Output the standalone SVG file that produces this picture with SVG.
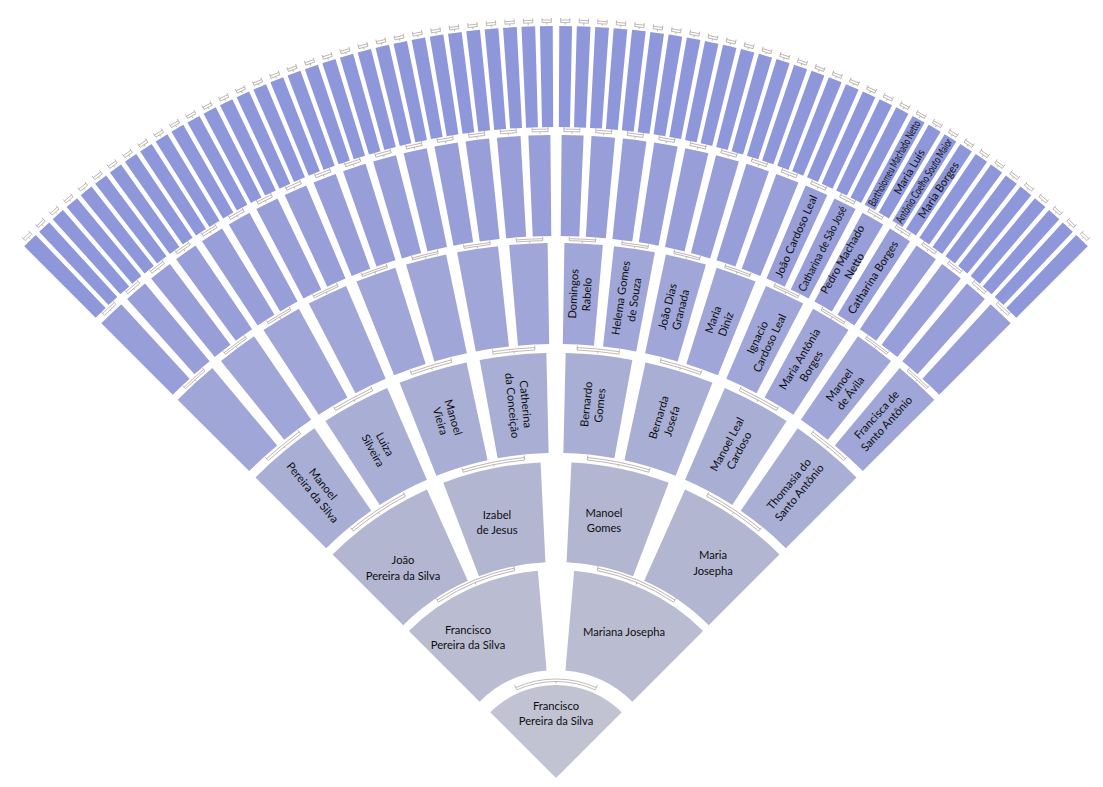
<svg xmlns="http://www.w3.org/2000/svg" xmlns:xlink="http://www.w3.org/1999/xlink" width="1103" height="787" viewBox="0 0 1103 787">
<style>
.c0{fill:#c1c3d3}.c1{fill:#babdd1}.c2{fill:#b3b6d1}.c3{fill:#a9aed5}.c4{fill:#a0a6d7}.c5{fill:#979ed8}.c6{fill:#8e97d9}
.band{fill:#ffffff;stroke:#a89d9d;stroke-width:0.7}
.tick{fill:none;stroke:#a89d9d;stroke-width:0.7}
.t{font-family:Lato,"Open Sans","Liberation Sans",sans-serif;font-size:11.2px;fill:#0e0e0e;text-anchor:middle}
</style>
<defs>
<path id="R0" d="M556,778 L490.24,712.24 A93,93 0 0 1 621.76,712.24 Z"/>
<path id="R1" d="M479.63,701.63 L408.92,630.92 A208,208 0 0 1 537.87,570.79 L546.59,670.41 A108,108 0 0 0 479.63,701.63 Z"/>
<path id="R2a" d="M403.26,625.26 L332.55,554.55 A316,316 0 0 1 426.97,489.55 L467.80,580.83 A216,216 0 0 0 403.26,625.26 Z"/>
<path id="R2b" d="M478.94,576.21 L443.27,482.79 A316,316 0 0 1 540.56,462.38 L545.45,562.26 A216,216 0 0 0 478.94,576.21 Z"/>
<path id="G3" d="M529.23,454.10 L520.99,354.44 A425,425 0 0 1 591.01,354.44 L582.77,454.10 A325,325 0 0 0 529.23,454.10 Z"/>
<path id="E3" d="M524.14,454.57 L514.34,355.05 A425,425 0 0 1 591.01,354.44 L582.77,454.10 A325,325 0 0 0 524.14,454.57 Z"/>
<path id="M3" d="M529.23,454.10 L520.99,354.44 A425,425 0 0 1 588.05,354.21 L580.51,453.93 A325,325 0 0 0 529.23,454.10 Z"/>
<path id="G4" d="M539.25,344.33 L535.35,243.40 A535,535 0 0 1 576.65,243.40 L572.75,344.33 A434,434 0 0 0 539.25,344.33 Z"/>
<path id="E4" d="M534.70,344.52 L529.75,243.64 A535,535 0 0 1 576.65,243.40 L572.75,344.33 A434,434 0 0 0 534.70,344.52 Z"/>
<path id="M4" d="M539.25,344.33 L535.35,243.40 A535,535 0 0 1 573.85,243.30 L570.48,344.24 A434,434 0 0 0 539.25,344.33 Z"/>
<path id="G5" d="M546.01,236.09 L544.15,135.11 A643,643 0 0 1 567.85,135.11 L565.99,236.09 A542,542 0 0 0 546.01,236.09 Z"/>
<path id="E5" d="M542.70,236.16 L540.22,135.19 A643,643 0 0 1 567.85,135.11 L565.99,236.09 A542,542 0 0 0 542.70,236.16 Z"/>
<path id="M5" d="M546.01,236.09 L544.15,135.11 A643,643 0 0 1 566.17,135.08 L564.57,236.07 A542,542 0 0 0 546.01,236.09 Z"/>
<path id="G6" d="M550.06,127.03 L549.13,26.03 A752,752 0 0 1 562.87,26.03 L561.94,127.03 A651,651 0 0 0 550.06,127.03 Z"/>
<path id="E6" d="M548.01,127.05 L546.77,26.06 A752,752 0 0 1 562.87,26.03 L561.94,127.03 A651,651 0 0 0 548.01,127.05 Z"/>
<path id="M6" d="M550.06,127.03 L549.13,26.03 A752,752 0 0 1 561.95,26.02 L561.15,127.02 A651,651 0 0 0 550.06,127.03 Z"/>
<g id="B0"><path class="band" d="M516.75,689.84 A96.5,96.5 0 0 1 595.25,689.84 L596.27,687.56 A99,99 0 0 0 515.73,687.56 Z"/><path class="tick" d="M515.73,687.56 L514.51,684.82 M596.27,687.56 L597.49,684.82 M556,681.5 L556,683.5"/></g>
<g id="B1"><path class="band" d="M514.74,570.56 A211.5,211.5 0 0 1 597.26,570.56 L597.75,568.11 A214,214 0 0 0 514.25,568.11 Z"/><path class="tick" d="M514.25,568.11 L513.86,566.15 M597.75,568.11 L598.14,566.15 M556,566.5 L556,568.5"/></g>
<g id="B2"><path class="band" d="M524.68,460.04 A319.5,319.5 0 0 1 587.32,460.04 L587.56,457.55 A322,322 0 0 0 524.44,457.55 Z"/><path class="tick" d="M524.44,457.55 L524.24,455.56 M587.56,457.55 L587.76,455.56 M556,458.5 L556,460.5"/></g>
<g id="B3"><path class="band" d="M534.97,350.01 A428.5,428.5 0 0 1 577.03,350.01 L577.15,347.52 A431,431 0 0 0 534.85,347.52 Z"/><path class="tick" d="M534.85,347.52 L534.75,345.52 M577.15,347.52 L577.25,345.52 M556,349.5 L556,351.5"/></g>
<g id="B4"><path class="band" d="M542.81,240.66 A537.5,537.5 0 0 1 569.19,240.66 L569.24,238.66 A539.5,539.5 0 0 0 542.76,238.66 Z"/><path class="tick" d="M542.76,238.66 L542.71,236.66 M569.24,238.66 L569.29,236.66 M556,240.5 L556,242.5"/></g>
<g id="B5"><path class="band" d="M548.07,131.55 A646.5,646.5 0 0 1 563.93,131.55 L563.96,129.05 A649,649 0 0 0 548.04,129.05 Z"/><path class="tick" d="M548.04,129.05 L548.01,127.05 M563.96,129.05 L563.99,127.05 M556,131.5 L556,133.5"/></g>
<g id="B6"><path class="band" d="M551.36,22.51 A755.5,755.5 0 0 1 560.64,22.51 L560.65,20.01 A758,758 0 0 0 551.35,20.01 Z"/><path class="tick" d="M551.35,20.01 L551.34,18.01 M560.65,20.01 L560.66,18.01 M556,22.5 L556,24.5"/></g>
</defs>

<g id="nodes">
<g id="n0-0"><use href="#R0" class="c0"/><text class="t"><tspan x="556" y="710">Francisco</tspan><tspan x="556" y="725">Pereira da Silva</tspan></text></g>
<g id="n1-0"><use href="#R1" class="c1"/><text class="t"><tspan x="468" y="634">Francisco</tspan><tspan x="468" y="649">Pereira da Silva</tspan></text></g>
<g id="n1-1"><use href="#R1" class="c1" transform="translate(1112 0) scale(-1 1)"/><text class="t" x="624" y="636">Mariana Josepha</text></g>
<g id="n2-0"><use href="#R2a" class="c2"/><text class="t"><tspan x="403" y="564">João</tspan><tspan x="403" y="580">Pereira da Silva</tspan></text></g>
<g id="n2-1"><use href="#R2b" class="c2"/><text class="t"><tspan x="497" y="519">Izabel</tspan><tspan x="497" y="534">de Jesus</tspan></text></g>
<g id="n2-2"><use href="#R2b" class="c2" transform="translate(1112 0) scale(-1 1)"/><text class="t"><tspan x="604" y="517">Manoel</tspan><tspan x="604" y="532">Gomes</tspan></text></g>
<g id="n2-3"><use href="#R2a" class="c2" transform="translate(1112 0) scale(-1 1)"/><text class="t"><tspan x="713" y="559">Maria</tspan><tspan x="713" y="575">Josepha</tspan></text></g>
<g id="n3-0"><use href="#E3" class="c3" transform="rotate(-39.375 556 778)"/><text class="t" transform="rotate(-39.375 556 778) translate(556 403) rotate(90)"><tspan x="0" y="-2.5">Manoel</tspan><tspan x="0" y="11">Pereira da Silva</tspan></text></g>
<g id="n3-1"><use href="#G3" class="c3" transform="rotate(-28.125 556 778)"/><text class="t" transform="rotate(-28.125 556 778) translate(556 403) rotate(90)"><tspan x="0" y="-2.5">Luiza</tspan><tspan x="0" y="11">Silveira</tspan></text></g>
<g id="n3-2"><use href="#G3" class="c3" transform="rotate(-16.875 556 778)"/><text class="t" transform="rotate(-16.875 556 778) translate(556 403) rotate(90)"><tspan x="0" y="-2.5">Manoel</tspan><tspan x="0" y="11">Vieira</tspan></text></g>
<g id="n3-3"><use href="#M3" class="c3" transform="rotate(-5.625 556 778)"/><text class="t" transform="rotate(-5.625 556 778) translate(556 403) rotate(90)"><tspan x="0" y="-2.5">Catherina</tspan><tspan x="0" y="11">da Conceição</tspan></text></g>
<g id="n3-4"><use href="#M3" class="c3" transform="rotate(5.625 556 778) translate(1112 0) scale(-1 1)"/><text class="t" transform="rotate(5.625 556 778) translate(556 403) rotate(-90)"><tspan x="0" y="-2.5">Bernardo</tspan><tspan x="0" y="11">Gomes</tspan></text></g>
<g id="n3-5"><use href="#G3" class="c3" transform="rotate(16.875 556 778)"/><text class="t" transform="rotate(16.875 556 778) translate(556 403) rotate(-90)"><tspan x="0" y="-2.5">Bernarda</tspan><tspan x="0" y="11">Josefa</tspan></text></g>
<g id="n3-6"><use href="#G3" class="c3" transform="rotate(28.125 556 778)"/><text class="t" transform="rotate(28.125 556 778) translate(556 403) rotate(-90)"><tspan x="0" y="-2.5">Manoel Leal</tspan><tspan x="0" y="11">Cardoso</tspan></text></g>
<g id="n3-7"><use href="#E3" class="c3" transform="rotate(39.375 556 778) translate(1112 0) scale(-1 1)"/><text class="t" transform="rotate(39.375 556 778) translate(556 403) rotate(-90)"><tspan x="0" y="-2.5">Thomasia do</tspan><tspan x="0" y="11">Santo Antônio</tspan></text></g>
<g id="n4-0"><use href="#E4" class="c4" transform="rotate(-42.1875 556 778)"/></g>
<g id="n4-1"><use href="#G4" class="c4" transform="rotate(-36.5625 556 778)"/></g>
<g id="n4-2"><use href="#G4" class="c4" transform="rotate(-30.9375 556 778)"/></g>
<g id="n4-3"><use href="#G4" class="c4" transform="rotate(-25.3125 556 778)"/></g>
<g id="n4-4"><use href="#G4" class="c4" transform="rotate(-19.6875 556 778)"/></g>
<g id="n4-5"><use href="#G4" class="c4" transform="rotate(-14.0625 556 778)"/></g>
<g id="n4-6"><use href="#G4" class="c4" transform="rotate(-8.4375 556 778)"/></g>
<g id="n4-7"><use href="#M4" class="c4" transform="rotate(-2.8125 556 778)"/></g>
<g id="n4-8"><use href="#M4" class="c4" transform="rotate(2.8125 556 778) translate(1112 0) scale(-1 1)"/><text class="t" transform="rotate(2.8125 556 778) translate(556 293.5) rotate(-90)"><tspan x="0" y="-2.5">Domingos</tspan><tspan x="0" y="11">Rabelo</tspan></text></g>
<g id="n4-9"><use href="#G4" class="c4" transform="rotate(8.4375 556 778)"/><text class="t" transform="rotate(8.4375 556 778) translate(556 293.5) rotate(-90)"><tspan x="0" y="-2.5">Helema Gomes</tspan><tspan x="0" y="11">de Souza</tspan></text></g>
<g id="n4-10"><use href="#G4" class="c4" transform="rotate(14.0625 556 778)"/><text class="t" transform="rotate(14.0625 556 778) translate(556 293.5) rotate(-90)"><tspan x="0" y="-2.5">João Dias</tspan><tspan x="0" y="11">Granada</tspan></text></g>
<g id="n4-11"><use href="#G4" class="c4" transform="rotate(19.6875 556 778)"/><text class="t" transform="rotate(19.6875 556 778) translate(556 293.5) rotate(-90)"><tspan x="0" y="-2.5">Maria</tspan><tspan x="0" y="11">Diniz</tspan></text></g>
<g id="n4-12"><use href="#G4" class="c4" transform="rotate(25.3125 556 778)"/><text class="t" transform="rotate(25.3125 556 778) translate(556 293.5) rotate(-90)"><tspan x="0" y="-2.5">Ignacio</tspan><tspan x="0" y="11">Cardoso Leal</tspan></text></g>
<g id="n4-13"><use href="#G4" class="c4" transform="rotate(30.9375 556 778)"/><text class="t" transform="rotate(30.9375 556 778) translate(556 293.5) rotate(-90)"><tspan x="0" y="-2.5">Maria Antônia</tspan><tspan x="0" y="11">Borges</tspan></text></g>
<g id="n4-14"><use href="#G4" class="c4" transform="rotate(36.5625 556 778)"/><text class="t" transform="rotate(36.5625 556 778) translate(556 293.5) rotate(-90)"><tspan x="0" y="-2.5">Manoel</tspan><tspan x="0" y="11">de Ávila</tspan></text></g>
<g id="n4-15"><use href="#E4" class="c4" transform="rotate(42.1875 556 778) translate(1112 0) scale(-1 1)"/><text class="t" transform="rotate(42.1875 556 778) translate(556 293.5) rotate(-90)"><tspan x="0" y="-2.5">Francisca de</tspan><tspan x="0" y="11">Santo Antônio</tspan></text></g>
<g id="n5-0"><use href="#E5" class="c5" transform="rotate(-43.59375 556 778)"/></g>
<g id="n5-1"><use href="#G5" class="c5" transform="rotate(-40.78125 556 778)"/></g>
<g id="n5-2"><use href="#G5" class="c5" transform="rotate(-37.96875 556 778)"/></g>
<g id="n5-3"><use href="#G5" class="c5" transform="rotate(-35.15625 556 778)"/></g>
<g id="n5-4"><use href="#G5" class="c5" transform="rotate(-32.34375 556 778)"/></g>
<g id="n5-5"><use href="#G5" class="c5" transform="rotate(-29.53125 556 778)"/></g>
<g id="n5-6"><use href="#G5" class="c5" transform="rotate(-26.71875 556 778)"/></g>
<g id="n5-7"><use href="#G5" class="c5" transform="rotate(-23.90625 556 778)"/></g>
<g id="n5-8"><use href="#G5" class="c5" transform="rotate(-21.09375 556 778)"/></g>
<g id="n5-9"><use href="#G5" class="c5" transform="rotate(-18.28125 556 778)"/></g>
<g id="n5-10"><use href="#G5" class="c5" transform="rotate(-15.46875 556 778)"/></g>
<g id="n5-11"><use href="#G5" class="c5" transform="rotate(-12.65625 556 778)"/></g>
<g id="n5-12"><use href="#G5" class="c5" transform="rotate(-9.84375 556 778)"/></g>
<g id="n5-13"><use href="#G5" class="c5" transform="rotate(-7.03125 556 778)"/></g>
<g id="n5-14"><use href="#G5" class="c5" transform="rotate(-4.21875 556 778)"/></g>
<g id="n5-15"><use href="#M5" class="c5" transform="rotate(-1.40625 556 778)"/></g>
<g id="n5-16"><use href="#M5" class="c5" transform="rotate(1.40625 556 778) translate(1112 0) scale(-1 1)"/></g>
<g id="n5-17"><use href="#G5" class="c5" transform="rotate(4.21875 556 778)"/></g>
<g id="n5-18"><use href="#G5" class="c5" transform="rotate(7.03125 556 778)"/></g>
<g id="n5-19"><use href="#G5" class="c5" transform="rotate(9.84375 556 778)"/></g>
<g id="n5-20"><use href="#G5" class="c5" transform="rotate(12.65625 556 778)"/></g>
<g id="n5-21"><use href="#G5" class="c5" transform="rotate(15.46875 556 778)"/></g>
<g id="n5-22"><use href="#G5" class="c5" transform="rotate(18.28125 556 778)"/></g>
<g id="n5-23"><use href="#G5" class="c5" transform="rotate(21.09375 556 778)"/></g>
<g id="n5-24"><use href="#G5" class="c5" transform="rotate(23.90625 556 778)"/><text class="t" y="3.8" transform="rotate(23.90625 556 778) translate(556 185.5) rotate(-90)">João Cardoso Leal</text></g>
<g id="n5-25"><use href="#G5" class="c5" transform="rotate(26.71875 556 778)"/><text class="t" y="3.8" textLength="94" lengthAdjust="spacingAndGlyphs" transform="rotate(26.71875 556 778) translate(556 185.5) rotate(-90)">Catharina de São José</text></g>
<g id="n5-26"><use href="#G5" class="c5" transform="rotate(29.53125 556 778)"/><text class="t" transform="rotate(29.53125 556 778) translate(556 185.5) rotate(-90)"><tspan x="0" y="-2.5">Pedro Machado</tspan><tspan x="0" y="11">Netto</tspan></text></g>
<g id="n5-27"><use href="#G5" class="c5" transform="rotate(32.34375 556 778)"/><text class="t" y="3.8" transform="rotate(32.34375 556 778) translate(556 185.5) rotate(-90)">Catharina Borges</text></g>
<g id="n5-28"><use href="#G5" class="c5" transform="rotate(35.15625 556 778)"/></g>
<g id="n5-29"><use href="#G5" class="c5" transform="rotate(37.96875 556 778)"/></g>
<g id="n5-30"><use href="#G5" class="c5" transform="rotate(40.78125 556 778)"/></g>
<g id="n5-31"><use href="#E5" class="c5" transform="rotate(43.59375 556 778) translate(1112 0) scale(-1 1)"/></g>
<g id="n6-0"><use href="#E6" class="c6" transform="rotate(-44.296875 556 778)"/></g>
<g id="n6-1"><use href="#G6" class="c6" transform="rotate(-42.890625 556 778)"/></g>
<g id="n6-2"><use href="#G6" class="c6" transform="rotate(-41.484375 556 778)"/></g>
<g id="n6-3"><use href="#G6" class="c6" transform="rotate(-40.078125 556 778)"/></g>
<g id="n6-4"><use href="#G6" class="c6" transform="rotate(-38.671875 556 778)"/></g>
<g id="n6-5"><use href="#G6" class="c6" transform="rotate(-37.265625 556 778)"/></g>
<g id="n6-6"><use href="#G6" class="c6" transform="rotate(-35.859375 556 778)"/></g>
<g id="n6-7"><use href="#G6" class="c6" transform="rotate(-34.453125 556 778)"/></g>
<g id="n6-8"><use href="#G6" class="c6" transform="rotate(-33.046875 556 778)"/></g>
<g id="n6-9"><use href="#G6" class="c6" transform="rotate(-31.640625 556 778)"/></g>
<g id="n6-10"><use href="#G6" class="c6" transform="rotate(-30.234375 556 778)"/></g>
<g id="n6-11"><use href="#G6" class="c6" transform="rotate(-28.828125 556 778)"/></g>
<g id="n6-12"><use href="#G6" class="c6" transform="rotate(-27.421875 556 778)"/></g>
<g id="n6-13"><use href="#G6" class="c6" transform="rotate(-26.015625 556 778)"/></g>
<g id="n6-14"><use href="#G6" class="c6" transform="rotate(-24.609375 556 778)"/></g>
<g id="n6-15"><use href="#G6" class="c6" transform="rotate(-23.203125 556 778)"/></g>
<g id="n6-16"><use href="#G6" class="c6" transform="rotate(-21.796875 556 778)"/></g>
<g id="n6-17"><use href="#G6" class="c6" transform="rotate(-20.390625 556 778)"/></g>
<g id="n6-18"><use href="#G6" class="c6" transform="rotate(-18.984375 556 778)"/></g>
<g id="n6-19"><use href="#G6" class="c6" transform="rotate(-17.578125 556 778)"/></g>
<g id="n6-20"><use href="#G6" class="c6" transform="rotate(-16.171875 556 778)"/></g>
<g id="n6-21"><use href="#G6" class="c6" transform="rotate(-14.765625 556 778)"/></g>
<g id="n6-22"><use href="#G6" class="c6" transform="rotate(-13.359375 556 778)"/></g>
<g id="n6-23"><use href="#G6" class="c6" transform="rotate(-11.953125 556 778)"/></g>
<g id="n6-24"><use href="#G6" class="c6" transform="rotate(-10.546875 556 778)"/></g>
<g id="n6-25"><use href="#G6" class="c6" transform="rotate(-9.140625 556 778)"/></g>
<g id="n6-26"><use href="#G6" class="c6" transform="rotate(-7.734375 556 778)"/></g>
<g id="n6-27"><use href="#G6" class="c6" transform="rotate(-6.328125 556 778)"/></g>
<g id="n6-28"><use href="#G6" class="c6" transform="rotate(-4.921875 556 778)"/></g>
<g id="n6-29"><use href="#G6" class="c6" transform="rotate(-3.515625 556 778)"/></g>
<g id="n6-30"><use href="#G6" class="c6" transform="rotate(-2.109375 556 778)"/></g>
<g id="n6-31"><use href="#M6" class="c6" transform="rotate(-0.703125 556 778)"/></g>
<g id="n6-32"><use href="#M6" class="c6" transform="rotate(0.703125 556 778) translate(1112 0) scale(-1 1)"/></g>
<g id="n6-33"><use href="#G6" class="c6" transform="rotate(2.109375 556 778)"/></g>
<g id="n6-34"><use href="#G6" class="c6" transform="rotate(3.515625 556 778)"/></g>
<g id="n6-35"><use href="#G6" class="c6" transform="rotate(4.921875 556 778)"/></g>
<g id="n6-36"><use href="#G6" class="c6" transform="rotate(6.328125 556 778)"/></g>
<g id="n6-37"><use href="#G6" class="c6" transform="rotate(7.734375 556 778)"/></g>
<g id="n6-38"><use href="#G6" class="c6" transform="rotate(9.140625 556 778)"/></g>
<g id="n6-39"><use href="#G6" class="c6" transform="rotate(10.546875 556 778)"/></g>
<g id="n6-40"><use href="#G6" class="c6" transform="rotate(11.953125 556 778)"/></g>
<g id="n6-41"><use href="#G6" class="c6" transform="rotate(13.359375 556 778)"/></g>
<g id="n6-42"><use href="#G6" class="c6" transform="rotate(14.765625 556 778)"/></g>
<g id="n6-43"><use href="#G6" class="c6" transform="rotate(16.171875 556 778)"/></g>
<g id="n6-44"><use href="#G6" class="c6" transform="rotate(17.578125 556 778)"/></g>
<g id="n6-45"><use href="#G6" class="c6" transform="rotate(18.984375 556 778)"/></g>
<g id="n6-46"><use href="#G6" class="c6" transform="rotate(20.390625 556 778)"/></g>
<g id="n6-47"><use href="#G6" class="c6" transform="rotate(21.796875 556 778)"/></g>
<g id="n6-48"><use href="#G6" class="c6" transform="rotate(23.203125 556 778)"/></g>
<g id="n6-49"><use href="#G6" class="c6" transform="rotate(24.609375 556 778)"/></g>
<g id="n6-50"><use href="#G6" class="c6" transform="rotate(26.015625 556 778)"/></g>
<g id="n6-51"><use href="#G6" class="c6" transform="rotate(27.421875 556 778)"/></g>
<g id="n6-52"><use href="#G6" class="c6" transform="rotate(28.828125 556 778)"/><text class="t" y="3.8" textLength="96" lengthAdjust="spacingAndGlyphs" transform="rotate(28.828125 556 778) translate(556 76.5) rotate(-90)">Bartholomeu Machado Netto</text></g>
<g id="n6-53"><use href="#G6" class="c6" transform="rotate(30.234375 556 778)"/><text class="t" y="3.8" transform="rotate(30.234375 556 778) translate(556 76.5) rotate(-90)">Maria Luís</text></g>
<g id="n6-54"><use href="#G6" class="c6" transform="rotate(31.640625 556 778)"/><text class="t" y="3.8" textLength="97" lengthAdjust="spacingAndGlyphs" transform="rotate(31.640625 556 778) translate(556 76.5) rotate(-90)">Antônio Coelho Souto Maior</text></g>
<g id="n6-55"><use href="#G6" class="c6" transform="rotate(33.046875 556 778)"/><text class="t" y="3.8" transform="rotate(33.046875 556 778) translate(556 76.5) rotate(-90)">Maria Borges</text></g>
<g id="n6-56"><use href="#G6" class="c6" transform="rotate(34.453125 556 778)"/></g>
<g id="n6-57"><use href="#G6" class="c6" transform="rotate(35.859375 556 778)"/></g>
<g id="n6-58"><use href="#G6" class="c6" transform="rotate(37.265625 556 778)"/></g>
<g id="n6-59"><use href="#G6" class="c6" transform="rotate(38.671875 556 778)"/></g>
<g id="n6-60"><use href="#G6" class="c6" transform="rotate(40.078125 556 778)"/></g>
<g id="n6-61"><use href="#G6" class="c6" transform="rotate(41.484375 556 778)"/></g>
<g id="n6-62"><use href="#G6" class="c6" transform="rotate(42.890625 556 778)"/></g>
<g id="n6-63"><use href="#E6" class="c6" transform="rotate(44.296875 556 778) translate(1112 0) scale(-1 1)"/></g>
</g>

<g id="connectors">
<use href="#B0"/>
<use href="#B1" transform="rotate(-22.5 556 778)"/>
<use href="#B1" transform="rotate(22.5 556 778)"/>
<use href="#B2" transform="rotate(-33.75 556 778)"/>
<use href="#B2" transform="rotate(-11.25 556 778)"/>
<use href="#B2" transform="rotate(11.25 556 778)"/>
<use href="#B2" transform="rotate(33.75 556 778)"/>
<use href="#B3" transform="rotate(-39.375 556 778)"/>
<use href="#B3" transform="rotate(-28.125 556 778)"/>
<use href="#B3" transform="rotate(-16.875 556 778)"/>
<use href="#B3" transform="rotate(-5.625 556 778)"/>
<use href="#B3" transform="rotate(5.625 556 778)"/>
<use href="#B3" transform="rotate(16.875 556 778)"/>
<use href="#B3" transform="rotate(28.125 556 778)"/>
<use href="#B3" transform="rotate(39.375 556 778)"/>
<use href="#B4" transform="rotate(-42.1875 556 778)"/>
<use href="#B4" transform="rotate(-36.5625 556 778)"/>
<use href="#B4" transform="rotate(-30.9375 556 778)"/>
<use href="#B4" transform="rotate(-25.3125 556 778)"/>
<use href="#B4" transform="rotate(-19.6875 556 778)"/>
<use href="#B4" transform="rotate(-14.0625 556 778)"/>
<use href="#B4" transform="rotate(-8.4375 556 778)"/>
<use href="#B4" transform="rotate(-2.8125 556 778)"/>
<use href="#B4" transform="rotate(2.8125 556 778)"/>
<use href="#B4" transform="rotate(8.4375 556 778)"/>
<use href="#B4" transform="rotate(14.0625 556 778)"/>
<use href="#B4" transform="rotate(19.6875 556 778)"/>
<use href="#B4" transform="rotate(25.3125 556 778)"/>
<use href="#B4" transform="rotate(30.9375 556 778)"/>
<use href="#B4" transform="rotate(36.5625 556 778)"/>
<use href="#B4" transform="rotate(42.1875 556 778)"/>
<use href="#B5" transform="rotate(-43.59375 556 778)"/>
<use href="#B5" transform="rotate(-40.78125 556 778)"/>
<use href="#B5" transform="rotate(-37.96875 556 778)"/>
<use href="#B5" transform="rotate(-35.15625 556 778)"/>
<use href="#B5" transform="rotate(-32.34375 556 778)"/>
<use href="#B5" transform="rotate(-29.53125 556 778)"/>
<use href="#B5" transform="rotate(-26.71875 556 778)"/>
<use href="#B5" transform="rotate(-23.90625 556 778)"/>
<use href="#B5" transform="rotate(-21.09375 556 778)"/>
<use href="#B5" transform="rotate(-18.28125 556 778)"/>
<use href="#B5" transform="rotate(-15.46875 556 778)"/>
<use href="#B5" transform="rotate(-12.65625 556 778)"/>
<use href="#B5" transform="rotate(-9.84375 556 778)"/>
<use href="#B5" transform="rotate(-7.03125 556 778)"/>
<use href="#B5" transform="rotate(-4.21875 556 778)"/>
<use href="#B5" transform="rotate(-1.40625 556 778)"/>
<use href="#B5" transform="rotate(1.40625 556 778)"/>
<use href="#B5" transform="rotate(4.21875 556 778)"/>
<use href="#B5" transform="rotate(7.03125 556 778)"/>
<use href="#B5" transform="rotate(9.84375 556 778)"/>
<use href="#B5" transform="rotate(12.65625 556 778)"/>
<use href="#B5" transform="rotate(15.46875 556 778)"/>
<use href="#B5" transform="rotate(18.28125 556 778)"/>
<use href="#B5" transform="rotate(21.09375 556 778)"/>
<use href="#B5" transform="rotate(23.90625 556 778)"/>
<use href="#B5" transform="rotate(26.71875 556 778)"/>
<use href="#B5" transform="rotate(29.53125 556 778)"/>
<use href="#B5" transform="rotate(32.34375 556 778)"/>
<use href="#B5" transform="rotate(35.15625 556 778)"/>
<use href="#B5" transform="rotate(37.96875 556 778)"/>
<use href="#B5" transform="rotate(40.78125 556 778)"/>
<use href="#B5" transform="rotate(43.59375 556 778)"/>
<use href="#B6" transform="rotate(-44.296875 556 778)"/>
<use href="#B6" transform="rotate(-42.890625 556 778)"/>
<use href="#B6" transform="rotate(-41.484375 556 778)"/>
<use href="#B6" transform="rotate(-40.078125 556 778)"/>
<use href="#B6" transform="rotate(-38.671875 556 778)"/>
<use href="#B6" transform="rotate(-37.265625 556 778)"/>
<use href="#B6" transform="rotate(-35.859375 556 778)"/>
<use href="#B6" transform="rotate(-34.453125 556 778)"/>
<use href="#B6" transform="rotate(-33.046875 556 778)"/>
<use href="#B6" transform="rotate(-31.640625 556 778)"/>
<use href="#B6" transform="rotate(-30.234375 556 778)"/>
<use href="#B6" transform="rotate(-28.828125 556 778)"/>
<use href="#B6" transform="rotate(-27.421875 556 778)"/>
<use href="#B6" transform="rotate(-26.015625 556 778)"/>
<use href="#B6" transform="rotate(-24.609375 556 778)"/>
<use href="#B6" transform="rotate(-23.203125 556 778)"/>
<use href="#B6" transform="rotate(-21.796875 556 778)"/>
<use href="#B6" transform="rotate(-20.390625 556 778)"/>
<use href="#B6" transform="rotate(-18.984375 556 778)"/>
<use href="#B6" transform="rotate(-17.578125 556 778)"/>
<use href="#B6" transform="rotate(-16.171875 556 778)"/>
<use href="#B6" transform="rotate(-14.765625 556 778)"/>
<use href="#B6" transform="rotate(-13.359375 556 778)"/>
<use href="#B6" transform="rotate(-11.953125 556 778)"/>
<use href="#B6" transform="rotate(-10.546875 556 778)"/>
<use href="#B6" transform="rotate(-9.140625 556 778)"/>
<use href="#B6" transform="rotate(-7.734375 556 778)"/>
<use href="#B6" transform="rotate(-6.328125 556 778)"/>
<use href="#B6" transform="rotate(-4.921875 556 778)"/>
<use href="#B6" transform="rotate(-3.515625 556 778)"/>
<use href="#B6" transform="rotate(-2.109375 556 778)"/>
<use href="#B6" transform="rotate(-0.703125 556 778)"/>
<use href="#B6" transform="rotate(0.703125 556 778)"/>
<use href="#B6" transform="rotate(2.109375 556 778)"/>
<use href="#B6" transform="rotate(3.515625 556 778)"/>
<use href="#B6" transform="rotate(4.921875 556 778)"/>
<use href="#B6" transform="rotate(6.328125 556 778)"/>
<use href="#B6" transform="rotate(7.734375 556 778)"/>
<use href="#B6" transform="rotate(9.140625 556 778)"/>
<use href="#B6" transform="rotate(10.546875 556 778)"/>
<use href="#B6" transform="rotate(11.953125 556 778)"/>
<use href="#B6" transform="rotate(13.359375 556 778)"/>
<use href="#B6" transform="rotate(14.765625 556 778)"/>
<use href="#B6" transform="rotate(16.171875 556 778)"/>
<use href="#B6" transform="rotate(17.578125 556 778)"/>
<use href="#B6" transform="rotate(18.984375 556 778)"/>
<use href="#B6" transform="rotate(20.390625 556 778)"/>
<use href="#B6" transform="rotate(21.796875 556 778)"/>
<use href="#B6" transform="rotate(23.203125 556 778)"/>
<use href="#B6" transform="rotate(24.609375 556 778)"/>
<use href="#B6" transform="rotate(26.015625 556 778)"/>
<use href="#B6" transform="rotate(27.421875 556 778)"/>
<use href="#B6" transform="rotate(28.828125 556 778)"/>
<use href="#B6" transform="rotate(30.234375 556 778)"/>
<use href="#B6" transform="rotate(31.640625 556 778)"/>
<use href="#B6" transform="rotate(33.046875 556 778)"/>
<use href="#B6" transform="rotate(34.453125 556 778)"/>
<use href="#B6" transform="rotate(35.859375 556 778)"/>
<use href="#B6" transform="rotate(37.265625 556 778)"/>
<use href="#B6" transform="rotate(38.671875 556 778)"/>
<use href="#B6" transform="rotate(40.078125 556 778)"/>
<use href="#B6" transform="rotate(41.484375 556 778)"/>
<use href="#B6" transform="rotate(42.890625 556 778)"/>
<use href="#B6" transform="rotate(44.296875 556 778)"/>
</g>
</svg>
